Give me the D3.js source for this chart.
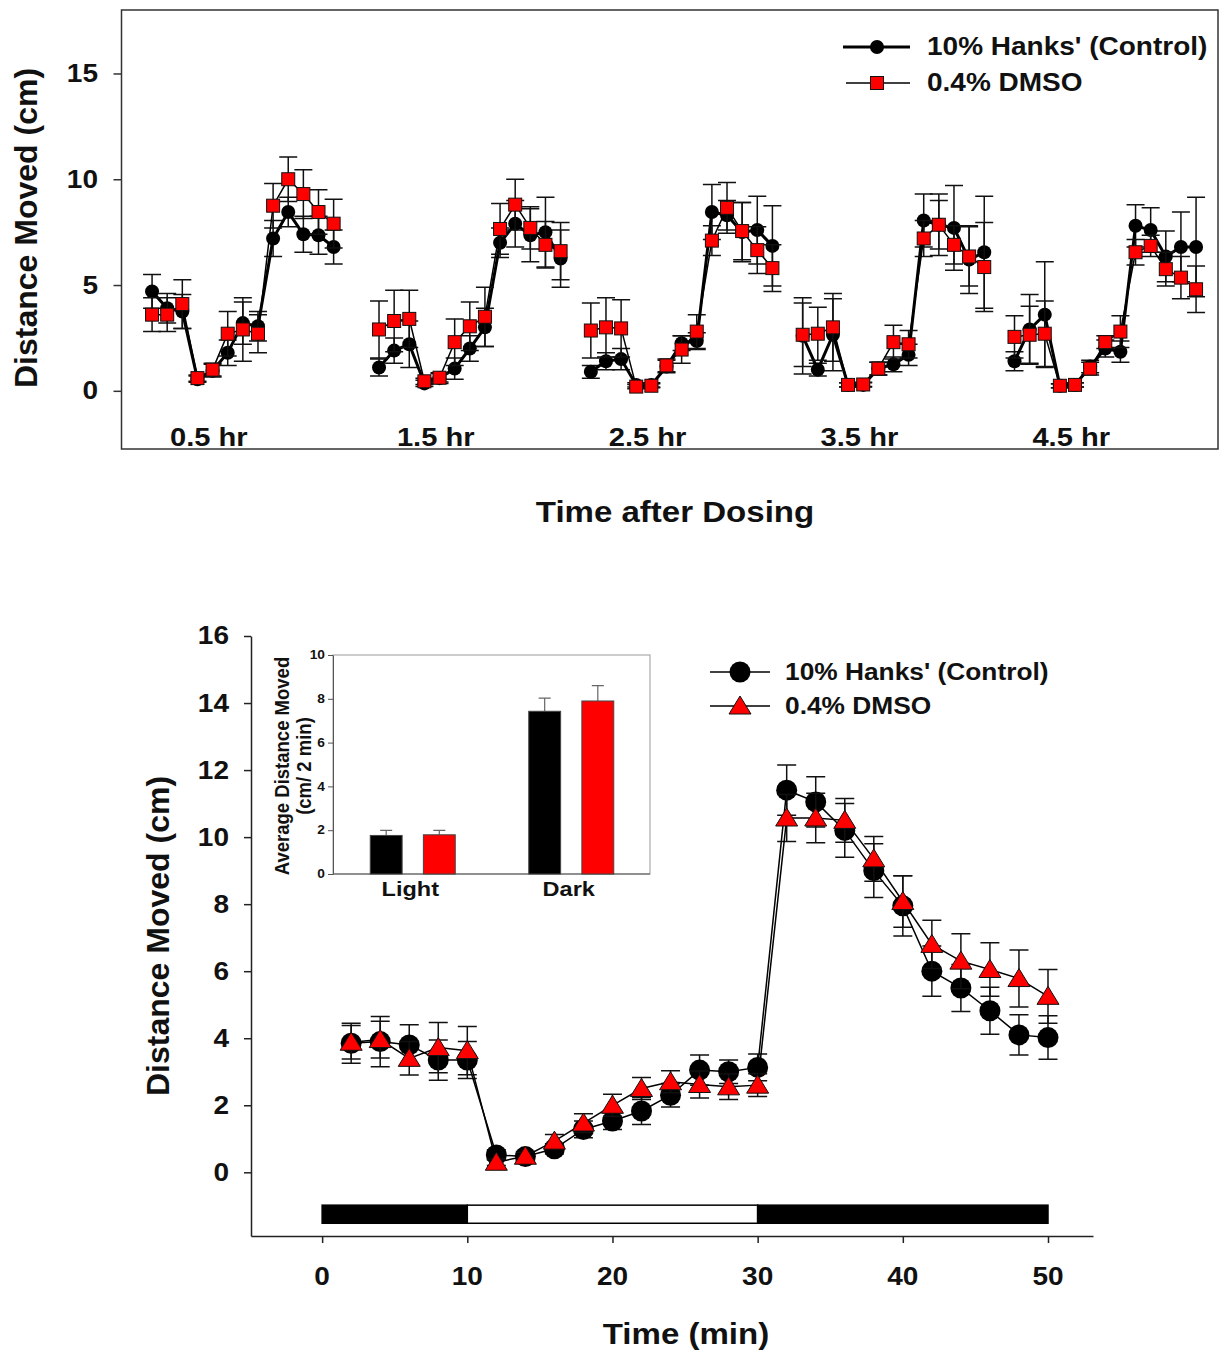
<!DOCTYPE html>
<html><head><meta charset="utf-8">
<script src="https://cdn.jsdelivr.net/npm/d3@7"></script>
<style>
body{margin:0;background:#fff}
text{font-family:"Liberation Sans",Arial,sans-serif;font-weight:bold;fill:#111}
</style>
</head><body>
<svg id="c" width="1220" height="1352"></svg>
<script>
// ---------------- DATA ----------------
const seriesNames = ["10% Hanks' (Control)", "0.4% DMSO"];
// Top chart: five sessions, 13 two-minute bins each
const groupLabels = ["0.5 hr", "1.5 hr", "2.5 hr", "3.5 hr", "4.5 hr"];
const groupStartSlot = [0, 15, 29, 43, 57];
const hanksTopMean = [
  [4.7, 3.9, 3.75, 0.55, 0.95, 1.8, 3.2, 3.05, 7.2, 8.45, 7.4, 7.35, 6.8],
  [1.1, 1.9, 2.2, 0.35, 0.6, 1.05, 2.0, 3.0, 7.0, 7.9, 7.35, 7.5, 6.25],
  [0.9, 1.4, 1.5, 0.28, 0.28, 1.15, 2.25, 2.35, 8.45, 8.3, 7.5, 7.6, 6.85],
  [2.6, 1.0, 2.65, 0.28, 0.28, 1.05, 1.25, 1.7, 8.05, 7.85, 7.7, 6.2, 6.55],
  [1.4, 2.9, 3.6, 0.24, 0.28, 1.15, 2.0, 1.85, 7.8, 7.6, 6.35, 6.8, 6.8]
];
const hanksTopErr = [
  [0.8, 0.7, 0.8, 0.15, 0.3, 0.6, 1.0, 0.7, 0.85, 0.7, 0.85, 0.9, 0.8],
  [0.4, 0.6, 1.1, 0.15, 0.25, 0.5, 0.6, 0.9, 0.7, 1.1, 1.25, 1.65, 1.35],
  [0.3, 0.4, 0.5, 0.1, 0.1, 0.3, 0.35, 0.4, 1.3, 0.7, 1.4, 1.6, 1.9],
  [1.8, 0.3, 1.7, 0.1, 0.1, 0.3, 0.35, 0.5, 1.25, 1.45, 2.0, 1.6, 2.65],
  [0.45, 1.65, 2.5, 0.1, 0.1, 0.3, 0.4, 0.5, 1.0, 1.05, 1.2, 1.65, 2.35]
];
const dmsoTopMean = [
  [3.6, 3.6, 4.1, 0.6, 1.0, 2.7, 2.9, 2.7, 8.75, 10.0, 9.3, 8.45, 7.9],
  [2.9, 3.3, 3.4, 0.45, 0.62, 2.3, 3.05, 3.5, 7.65, 8.8, 7.7, 6.9, 6.6],
  [2.85, 3.0, 2.95, 0.2, 0.24, 1.2, 1.95, 2.8, 7.1, 8.65, 7.55, 6.65, 5.8],
  [2.65, 2.7, 3.0, 0.28, 0.3, 1.05, 2.3, 2.2, 7.2, 7.85, 6.9, 6.35, 5.85],
  [2.55, 2.65, 2.7, 0.24, 0.28, 1.05, 2.3, 2.8, 6.55, 6.85, 5.75, 5.35, 4.8]
];
const dmsoTopErr = [
  [0.8, 0.8, 1.15, 0.15, 0.3, 1.05, 1.5, 0.9, 1.05, 1.05, 1.15, 1.05, 1.15],
  [1.35, 1.45, 1.35, 0.15, 0.2, 1.1, 1.15, 1.4, 1.2, 1.2, 1.0, 1.1, 1.35],
  [1.3, 1.4, 1.35, 0.1, 0.1, 0.3, 0.65, 0.8, 0.7, 1.2, 1.35, 1.1, 1.1],
  [1.5, 1.25, 1.6, 0.1, 0.1, 0.3, 0.8, 0.65, 0.85, 1.15, 0.9, 1.4, 2.1],
  [1.0, 1.35, 1.55, 0.1, 0.1, 0.3, 0.3, 0.75, 0.6, 0.5, 0.8, 1.0, 1.1]
];
const topYTicks = [0, 5, 10, 15];

// Bottom chart: time course (min)
const timeMin = [2,4,6,8,10,12,14,16,18,20,22,24,26,28,30,32,34,36,38,40,42,44,46,48,50];
const hanksBottom = [3.85,3.9,3.8,3.35,3.35,0.52,0.47,0.7,1.28,1.53,1.83,2.3,3.05,3.0,3.13,11.4,11.05,10.2,9.0,7.95,6.0,5.5,4.82,4.1,4.02];
const hanksBottomErr = [0.6,0.75,0.6,0.6,0.55,0.15,0.15,0.15,0.25,0.25,0.4,0.35,0.45,0.35,0.4,0.75,0.75,0.8,0.8,0.9,0.75,0.7,0.7,0.6,0.65];
const dmsoBottom = [3.88,3.96,3.4,3.72,3.63,0.3,0.48,0.93,1.47,2.0,2.5,2.7,2.62,2.55,2.6,10.57,10.57,10.5,9.35,8.08,6.8,6.3,6.05,5.78,5.25];
const dmsoBottomErr = [0.5,0.55,0.5,0.75,0.72,0.1,0.12,0.2,0.28,0.33,0.33,0.33,0.4,0.38,0.34,0.7,0.74,0.65,0.67,0.77,0.72,0.82,0.8,0.85,0.8];
const bottomXTicks = [0, 10, 20, 30, 40, 50];
const bottomYTicks = [0, 2, 4, 6, 8, 10, 12, 14, 16];
const phaseStart = [0, 10, 30];
const phaseEnd = [10, 30, 50];
const phaseDark = [true, false, true];

// Inset bar chart
const insetCategories = ["Light", "Dark"];
const insetHanks = [1.76, 7.43];
const insetHanksErr = [0.23, 0.6];
const insetDmso = [1.79, 7.9];
const insetDmsoErr = [0.2, 0.7];
const insetYTicks = [0, 2, 4, 6, 8, 10];

// ---------------- DRAW ----------------
const svg = d3.select("#c");
const RED = "#ff0000";
const SX = 1.12;

function txt(g, x, y, s, size, anchor, opts = {}) {
  const sx = opts.sx ?? SX;
  const rot = opts.rotate ? " rotate(-90)" : "";
  return g.append("text")
    .attr("transform", `translate(${x},${y})${rot} scale(${sx},1)`)
    .attr("text-anchor", anchor)
    .attr("dominant-baseline", "central")
    .style("font-size", size + "px")
    .text(s);
}

function errBars(g, pts, x, y, cap, width) {
  g.append("g").selectAll("path").data(pts).join("path")
    .attr("d", d => {
      const cx = x(d.x), y1 = y(d.v + d.e), y0 = y(d.v - d.e);
      return `M${cx},${y0}V${y1}M${cx - cap},${y1}H${cx + cap}M${cx - cap},${y0}H${cx + cap}`;
    })
    .attr("stroke", "#111").attr("stroke-width", width).attr("fill", "none");
}

// ===== TOP CHART =====
const tx = d3.scaleLinear().domain([-2.02, 70.45]).range([121.5, 1218]);
const ty = d3.scaleLinear().domain([-2.75, 18]).range([449, 10]);
const topG = svg.append("g");

topG.append("rect").attr("x", tx.range()[0]).attr("y", ty.range()[1])
  .attr("width", tx.range()[1] - tx.range()[0]).attr("height", ty.range()[0] - ty.range()[1])
  .attr("fill", "none").attr("stroke", "#333").attr("stroke-width", 1.5);

const tyAxis = topG.append("g").attr("transform", `translate(${tx.range()[0]},0)`)
  .call(d3.axisLeft(ty).tickValues(topYTicks).tickSize(8).tickSizeOuter(0).tickFormat(""));
tyAxis.select(".domain").remove();
tyAxis.selectAll("line").attr("stroke", "#333").attr("stroke-width", 1.5);
topYTicks.forEach(t => txt(topG, 98, ty(t), String(t), 25, "end"));

const topSeries = [
  {mean: hanksTopMean, err: hanksTopErr, lw: 3},
  {mean: dmsoTopMean, err: dmsoTopErr, lw: 1.5}
];
topSeries.forEach((s, si) => {
  const g = topG.append("g");
  s.mean.forEach((row, gi) => {
    const pts = row.map((v, i) => ({x: groupStartSlot[gi] + i, v, e: s.err[gi][i]}));
    errBars(g, pts, tx, ty, 9, 1.5);
    g.append("path").datum(pts)
      .attr("d", d3.line().x(d => tx(d.x)).y(d => ty(d.v)))
      .attr("fill", "none").attr("stroke", "#000").attr("stroke-width", s.lw);
    if (si === 0) {
      g.append("g").selectAll("circle").data(pts).join("circle")
        .attr("cx", d => tx(d.x)).attr("cy", d => ty(d.v)).attr("r", 7).attr("fill", "#000");
    } else {
      g.append("g").selectAll("rect").data(pts).join("rect")
        .attr("x", d => tx(d.x) - 6.5).attr("y", d => ty(d.v) - 6.5)
        .attr("width", 13).attr("height", 13)
        .attr("fill", RED).attr("stroke", "#111").attr("stroke-width", 1);
    }
  });
});

groupLabels.forEach((l, i) => txt(topG, tx(groupStartSlot[i] + 3.75), 437, l, 26, "middle"));

txt(topG, 26, 228, "Distance Moved (cm)", 32, "middle", {rotate: true, sx: 1});
txt(topG, 675, 512, "Time after Dosing", 29.5, "middle");

const tl = topG.append("g");
tl.append("line").attr("x1", 843).attr("x2", 910).attr("y1", 47).attr("y2", 47).attr("stroke", "#000").attr("stroke-width", 3);
tl.append("circle").attr("cx", 877).attr("cy", 47).attr("r", 7).attr("fill", "#000");
txt(tl, 927, 47, seriesNames[0], 25, "start");
tl.append("line").attr("x1", 846).attr("x2", 910).attr("y1", 83).attr("y2", 83).attr("stroke", "#000").attr("stroke-width", 1.5);
tl.append("rect").attr("x", 870.5).attr("y", 76.5).attr("width", 13).attr("height", 13).attr("fill", RED).attr("stroke", "#111");
txt(tl, 927, 83, seriesNames[1], 25, "start");

// ===== BOTTOM CHART =====
const bx = d3.scaleLinear().domain([-4.9, 53.1]).range([251, 1093]);
const by = d3.scaleLinear().domain([-1.9, 16]).range([1236, 636]);
const bot = svg.append("g");

const byAxis = bot.append("g").attr("transform", `translate(${bx.range()[0]},0)`)
  .call(d3.axisLeft(by).tickValues(bottomYTicks).tickSize(7).tickSizeOuter(0).tickFormat(""));
byAxis.select(".domain").attr("stroke", "#222").attr("stroke-width", 1.5);
byAxis.selectAll("line").attr("stroke", "#222").attr("stroke-width", 1.5);
bottomYTicks.forEach(t => txt(bot, 229, by(t), String(t), 25, "end"));

const bxAxis = bot.append("g").attr("transform", `translate(0,${by.range()[0]})`)
  .call(d3.axisBottom(bx).tickValues(bottomXTicks).tickSize(7).tickSizeOuter(0).tickFormat(""));
bxAxis.select(".domain").attr("stroke", "#222").attr("stroke-width", 1.5);
bxAxis.selectAll("line").attr("stroke", "#222").attr("stroke-width", 1.5);
bottomXTicks.forEach(t => txt(bot, bx(t), 1277, String(t), 25, "middle"));

phaseStart.forEach((s, i) => {
  bot.append("rect").attr("x", bx(s)).attr("y", by(-0.98))
    .attr("width", bx(phaseEnd[i]) - bx(s)).attr("height", by(-1.52) - by(-0.98))
    .attr("fill", phaseDark[i] ? "#000" : "#fff").attr("stroke", "#000").attr("stroke-width", 1.5);
});

const hPts = timeMin.map((t, i) => ({x: t, v: hanksBottom[i], e: hanksBottomErr[i]}));
const dPts = timeMin.map((t, i) => ({x: t, v: dmsoBottom[i], e: dmsoBottomErr[i]}));
const bline = d3.line().x(d => bx(d.x)).y(d => by(d.v));

errBars(bot, hPts, bx, by, 9.5, 1.5);
bot.append("path").datum(hPts).attr("d", bline).attr("fill", "none").attr("stroke", "#000").attr("stroke-width", 1.5);
bot.append("g").selectAll("circle").data(hPts).join("circle")
  .attr("cx", d => bx(d.x)).attr("cy", d => by(d.v)).attr("r", 10.5).attr("fill", "#000");
errBars(bot, dPts, bx, by, 9.5, 1.5);
bot.append("path").datum(dPts).attr("d", bline).attr("fill", "none").attr("stroke", "#000").attr("stroke-width", 1.5);
const tri = (cx, cy) => `M${cx},${cy - 10}L${cx + 11},${cy + 8}L${cx - 11},${cy + 8}Z`;
bot.append("g").selectAll("path").data(dPts).join("path")
  .attr("d", d => tri(bx(d.x), by(d.v)))
  .attr("fill", RED).attr("stroke", "#111").attr("stroke-width", 1);

txt(bot, 158, 936, "Distance Moved (cm)", 32, "middle", {rotate: true, sx: 1});
txt(bot, 686, 1334, "Time (min)", 29.5, "middle");

const bl = bot.append("g");
bl.append("line").attr("x1", 710).attr("x2", 770).attr("y1", 672).attr("y2", 672).attr("stroke", "#000").attr("stroke-width", 1.5);
bl.append("circle").attr("cx", 740).attr("cy", 672).attr("r", 10.5).attr("fill", "#000");
txt(bl, 785, 672, seriesNames[0], 23.5, "start");
bl.append("line").attr("x1", 710).attr("x2", 770).attr("y1", 706).attr("y2", 706).attr("stroke", "#000").attr("stroke-width", 1.5);
bl.append("path").attr("d", tri(740, 706)).attr("fill", RED).attr("stroke", "#111");
txt(bl, 785, 706, seriesNames[1], 23.5, "start");

// ===== INSET =====
const ix = d3.scaleBand().domain(insetCategories).range([333, 650]);
const ix1 = d3.scaleBand().domain([0, 1]).range([-42, 43]).paddingInner(0.4);
const iy = d3.scaleLinear().domain([0, 10]).range([874, 655]);
const ins = svg.append("g");
ins.append("rect").attr("x", 333).attr("y", iy(10)).attr("width", 650 - 333).attr("height", iy(0) - iy(10))
  .attr("fill", "#fff").attr("stroke", "#999").attr("stroke-width", 1);
const iyAxis = ins.append("g").attr("transform", "translate(333,0)")
  .call(d3.axisLeft(iy).tickValues(insetYTicks).tickSize(5).tickSizeOuter(0).tickFormat(""));
iyAxis.select(".domain").attr("stroke", "#555").attr("stroke-width", 1);
iyAxis.selectAll("line").attr("stroke", "#555");
insetYTicks.forEach(t => txt(ins, 325, iy(t), String(t), 12.5, "end", {sx: 1.1}));
ins.append("line").attr("x1", 333).attr("x2", 650).attr("y1", iy(0)).attr("y2", iy(0)).attr("stroke", "#555");

const insetSeries = [
  {vals: insetHanks, errs: insetHanksErr, color: "#000"},
  {vals: insetDmso, errs: insetDmsoErr, color: RED}
];
insetSeries.forEach((s, si) => {
  insetCategories.forEach((c, ci) => {
    const bxp = ix(c) + ix.bandwidth() / 2 + ix1(si);
    const w = ix1.bandwidth();
    const yTop = iy(s.vals[ci]), eTop = iy(s.vals[ci] + s.errs[ci]);
    ins.append("path").attr("d", `M${bxp + w / 2},${yTop}V${eTop}M${bxp + w / 2 - 6},${eTop}H${bxp + w / 2 + 6}`)
      .attr("stroke", "#666").attr("stroke-width", 1.2).attr("fill", "none");
    ins.append("rect").attr("x", bxp).attr("y", yTop).attr("width", w).attr("height", iy(0) - yTop)
      .attr("fill", s.color).attr("stroke", "#444").attr("stroke-width", 1);
  });
});
insetCategories.forEach(c => txt(ins, ix(c) + ix.bandwidth() / 2 - 2, 889, c, 21, "middle"));
txt(ins, 282, 766, "Average Distance Moved", 19.5, "middle", {rotate: true, sx: 0.95});
txt(ins, 304, 766, "(cm/ 2 min)", 19.5, "middle", {rotate: true, sx: 0.95});
</script>
</body></html>
